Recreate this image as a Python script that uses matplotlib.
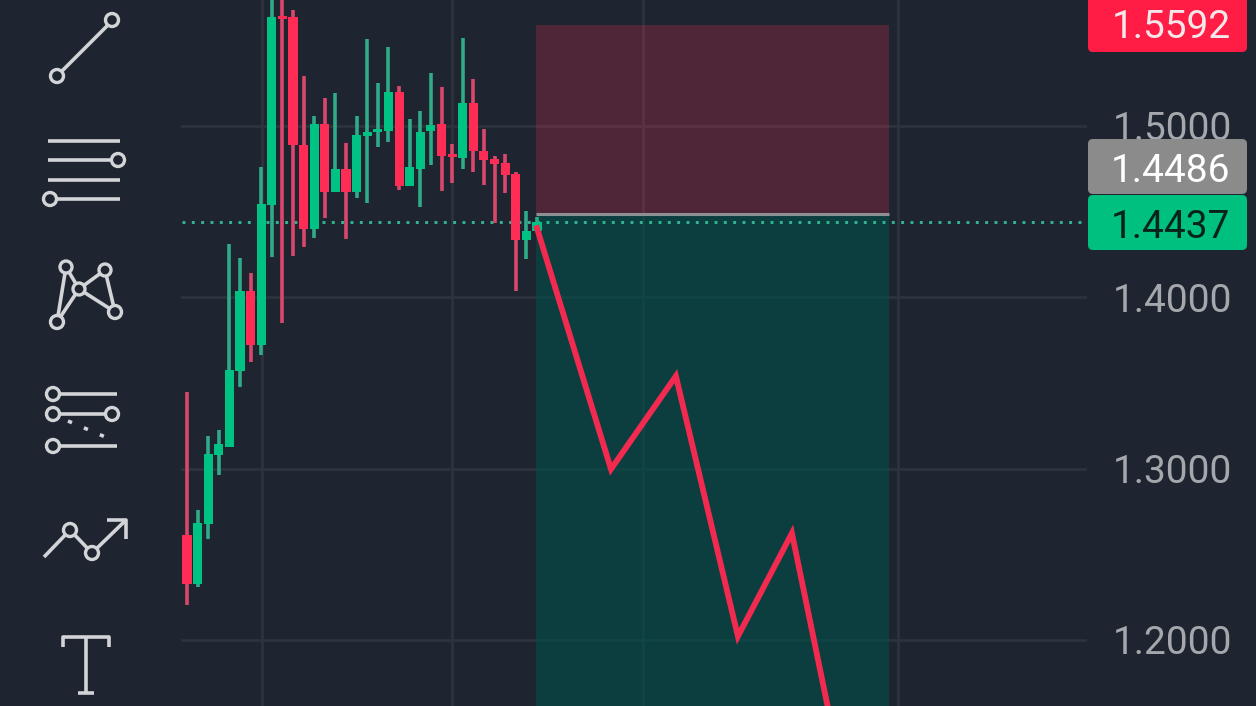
import numpy as np
import matplotlib
matplotlib.use('Agg')
from matplotlib import pyplot as plt
from matplotlib.patches import FancyBboxPatch, Rectangle, Circle

####################### data
opens = [1.2612, 1.2325, 1.2676, 1.3079, 1.3125, 1.3569, 1.4036, 1.3721, 1.4539, 1.5645, 1.5636, 1.4889,
         1.4398, 1.5012, 1.4615, 1.4749, 1.4615, 1.4942, 1.4965, 1.4971, 1.5199, 1.4650, 1.4749, 1.4971,
         1.5012, 1.4836, 1.4813, 1.5134, 1.4854, 1.4807, 1.4784, 1.4720, 1.4334, 1.4387]
closes = [1.2325, 1.2682, 1.3084, 1.3143, 1.3575, 1.4036, 1.3721, 1.4544, 1.5636, 1.5627, 1.4889, 1.4398,
          1.5012, 1.4615, 1.4749, 1.4615, 1.4947, 1.4965, 1.4982, 1.5199, 1.4650, 1.4761, 1.4965, 1.5006,
          1.4825, 1.4819, 1.5134, 1.4854, 1.4801, 1.4778, 1.4714, 1.4334, 1.4387, 1.4439]
highs = [1.3447, 1.2757, 1.3190, 1.3225, 1.4311, 1.4229, 1.4142, 1.4758, 1.5765, 1.5765, 1.5677, 1.5292,
         1.5058, 1.5164, 1.5193, 1.4901, 1.5058, 1.5508, 1.5251, 1.5461, 1.5234, 1.5041, 1.5088, 1.5310,
         1.5228, 1.4895, 1.5513, 1.5274, 1.4982, 1.4825, 1.4836, 1.4731, 1.4504, 1.4469]
lows = [1.2203, 1.2308, 1.2588, 1.2962, 1.3125, 1.3476, 1.3622, 1.3663, 1.4235, 1.3850, 1.4241, 1.4293,
        1.4346, 1.4463, 1.4615, 1.4340, 1.4580, 1.4550, 1.4877, 1.4907, 1.4626, 1.4650, 1.4527, 1.4772,
        1.4620, 1.4667, 1.4749, 1.4731, 1.4655, 1.4434, 1.4609, 1.4036, 1.4223, 1.4387]

projection_x = [33, 39.98, 46.1, 51.95, 57.04, 60.6]
projection_y = [1.4404, 1.2997, 1.3540, 1.2021, 1.2623, 1.1555]

price_ticks = [1.5, 1.4, 1.3, 1.2]
tick_labels = ['1.5000', '1.4000', '1.3000', '1.2000']
grid_times = [7.03, 25, 43, 67.05]

stop_price = 1.5592
entry_price = 1.4486
last_price = 1.4437
box_left, box_right = 32.9, 66.2

####################### colours
BG = '#1e2530'
GREEN = '#00c282'
RED = '#ff2d55'
GRID = '#2c333d'

fig = plt.figure(figsize=(12.56, 7.06), dpi=100, facecolor=BG)
ax = fig.add_axes([0, 0, 1, 1], facecolor=BG)
ax.set_xlim(-17.63, 100.8)
ax.set_ylim(1.16141, 1.57355)
for s in ax.spines.values():
    s.set_visible(False)
ax.set_xticks([])
ax.yaxis.tick_right()
ax.set_yticks(price_ticks)
ax.set_yticklabels(tick_labels, fontfamily='Roboto', fontsize=28, color='#a4a7ac')
ax.tick_params(axis='y', length=0, pad=-103)

####################### grid
for p in price_ticks:
    ax.axhline(p, 182 / 1256, 1085 / 1256, color=GRID, lw=2, zorder=1)
for t in grid_times:
    ax.axvline(t, color=GRID, lw=2, zorder=1)

####################### position box
ax.add_patch(Rectangle((box_left, entry_price), box_right - box_left, stop_price - entry_price,
                       facecolor=RED, alpha=0.22, lw=0, zorder=2))
ax.add_patch(Rectangle((box_left, 1.1), box_right - box_left, entry_price - 1.1,
                       facecolor='#00504a', alpha=0.6, lw=0, zorder=2))
ax.plot([box_left, box_right], [entry_price, entry_price], color='#8c8f93', lw=2.2, zorder=3,
        solid_capstyle='butt')

####################### last price line
ax.axhline(last_price, 182 / 1256, 1085 / 1256, color='#33b592', lw=2.1, ls=(0, (1, 2.2)), zorder=3)

####################### candles
for i in range(len(opens)):
    up = closes[i] >= opens[i]
    wick = '#2fab88' if up else '#d9486c'
    body = GREEN if up else RED
    ax.plot([i, i], [lows[i], highs[i]], color=wick, lw=2.6, zorder=4, solid_capstyle='butt')
    bottom = min(opens[i], closes[i])
    height = abs(closes[i] - opens[i])
    ax.bar(i, height, bottom=bottom, width=0.86, color=body, lw=0, zorder=5)

ax.plot(projection_x, projection_y, color='#f22a50', lw=4.2, zorder=6, solid_joinstyle='miter')

####################### overlay in pixels: badges and tool icons
ov = fig.add_axes([0, 0, 1, 1], facecolor='none')
ov.set_xlim(0, 1256)
ov.set_ylim(706, 0)
ov.axis('off')

badges = [(-20, 52, '#ff1c45', f'{stop_price:.4f}', '#f4e6e9', 24),
          (139, 194, '#8b8b8b', f'{entry_price:.4f}', '#ffffff', 167),
          (195, 250, '#00c080', f'{last_price:.4f}', '#07231b', 223)]
for top, bot, col, txt, tcol, ty in badges:
    ov.add_patch(FancyBboxPatch((1092, top + 4), 151, bot - top - 8,
                                boxstyle='round,pad=4,rounding_size=5', facecolor=col, lw=0, zorder=7))
    ov.text(1171, ty, txt, color=tcol, fontsize=28, fontfamily='Roboto', ha='center', va='center_baseline', zorder=8)

ICON = '#d2d4d7'


def seg(xs, ys, lw=2.6):
    ov.plot(xs, ys, color=ICON, lw=lw, solid_capstyle='butt', zorder=8)


def dot(x, y, r=6.5):
    ov.add_patch(Circle((x, y), r, facecolor=BG, edgecolor=ICON, lw=2.4, zorder=9))


# trend line
seg([57, 112], [76, 21])
dot(57, 76)
dot(112, 20)
# parallel lines
for y, x0, x1 in [(141, 48, 120), (160, 48, 118), (180, 48, 120), (199, 50, 120)]:
    seg([x0, x1], [y, y])
dot(118, 160)
dot(50, 199)
# xabcd pattern
pts = {'a': (57, 322), 'b': (66, 267), 'c': (79, 289), 'd': (105, 270), 'e': (115, 312)}
seg(*zip(pts['a'], pts['b']))
seg(*zip(pts['a'], pts['c']))
seg(*zip(pts['b'], pts['c']))
seg(*zip(pts['c'], pts['d']))
seg(*zip(pts['c'], pts['e']))
seg(*zip(pts['d'], pts['e']))
dot(*pts['a'])
dot(*pts['b'], 6)
dot(*pts['c'], 6)
dot(*pts['d'], 6)
dot(*pts['e'])
# fib lines
seg([53, 117], [394, 394])
seg([53, 112], [414, 414])
seg([53, 117], [446, 446])
ov.plot([68, 110], [421, 439], color=ICON, lw=2.6, ls=(0, (1.2, 3.6)), zorder=8)
dot(53, 394)
dot(53, 414)
dot(112, 414)
dot(53, 446)
# path with arrow
seg([44, 70], [557, 530])
seg([70, 92], [530, 553])
seg([92, 126], [553, 520])
seg([107, 126, 126], [520, 520, 539])
dot(70, 530)
dot(92, 553)
# text tool
seg([63, 63, 109, 109], [647, 637, 637, 647])
seg([86, 86], [637, 693])
seg([78, 94], [693, 693])

fig.savefig('out.png', dpi=100, facecolor=BG)
